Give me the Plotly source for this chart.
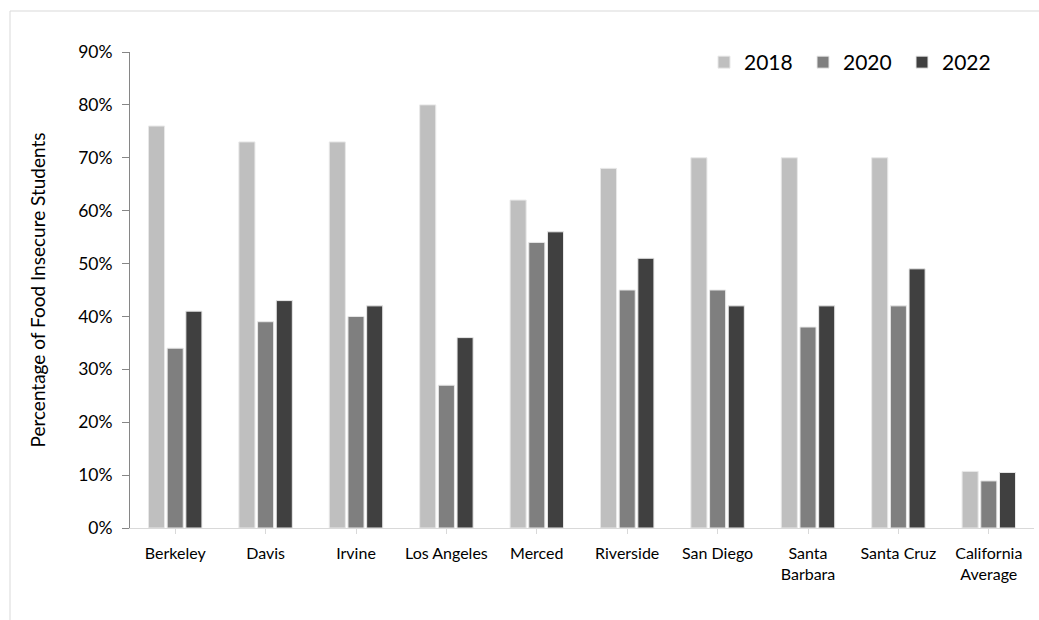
import plotly.graph_objects as go

campuses = ["Berkeley", "Davis", "Irvine", "Los Angeles", "Merced", "Riverside",
            "San Diego", "Santa<br>Barbara", "Santa Cruz", "California<br>Average"]
y2018 = [0.76, 0.73, 0.73, 0.80, 0.62, 0.68, 0.70, 0.70, 0.70, 0.107]
y2020 = [0.34, 0.39, 0.40, 0.27, 0.54, 0.45, 0.45, 0.38, 0.42, 0.089]
y2022 = [0.41, 0.43, 0.42, 0.36, 0.56, 0.51, 0.42, 0.42, 0.49, 0.105]
series = [("2018", y2018, "#bfbfbf"), ("2020", y2020, "#7f7f7f"), ("2022", y2022, "#404040")]
yticks = [0, 0.1, 0.2, 0.3, 0.4, 0.5, 0.6, 0.7, 0.8, 0.9]
ytick_text = ["0%", "10%", "20%", "30%", "40%", "50%", "60%", "70%", "80%", "90%"]

FONT = "Lato, Carlito, Calibri, sans-serif"

fig = go.Figure()
for name, vals, col in series:
    fig.add_trace(go.Bar(x=campuses, y=vals, name=name, marker_color=col,
                         marker_line=dict(color="#e8e8e8", width=1)))

L, R, T, B = 130, 1034, 52, 528
W, H = 1039, 620
pw, ph = R - L, B - T

def px(x):
    return (x - L) / pw

def py(y):
    return (B - y) / ph

fig.update_layout(
    width=W, height=H,
    margin=dict(l=L, r=W - R, t=T, b=H - B, autoexpand=False),
    paper_bgcolor="white", plot_bgcolor="white",
    barmode="group", bargap=0.38, bargroupgap=0.14,
    font=dict(family=FONT, color="#000000"),
    showlegend=True,
    legend=dict(orientation="h", x=px(704), y=py(42), xanchor="left", yanchor="top",
                font=dict(size=21, family=FONT), traceorder="normal",
                itemwidth=30, entrywidth=54, bgcolor="rgba(0,0,0,0)"),
    xaxis=dict(type="category", showline=True, linecolor="#d9d9d9", linewidth=1,
               ticks="outside", tickcolor="#d9d9d9", ticklen=5,
               ticklabelstandoff=6,
               tickfont=dict(size=16, family=FONT), showgrid=False),
    yaxis=dict(range=[0, 0.9], tickvals=yticks, ticktext=ytick_text,
               showline=True, linecolor="#868686", linewidth=1,
               ticks="outside", tickcolor="#868686", ticklen=7,
               ticklabelstandoff=6,
               tickfont=dict(size=17.5, family=FONT), showgrid=False, zeroline=False,
               title=dict(text="Percentage of Food Insecure Students",
                          font=dict(size=19, family=FONT), standoff=27)),
    shapes=[dict(type="rect", xref="paper", yref="paper",
                 x0=px(10), x1=px(1050), y0=py(630), y1=py(11),
                 line=dict(color="#d9d9d9", width=1), fillcolor="rgba(0,0,0,0)",
                 layer="below")],
)

fig.write_html("out.html")
